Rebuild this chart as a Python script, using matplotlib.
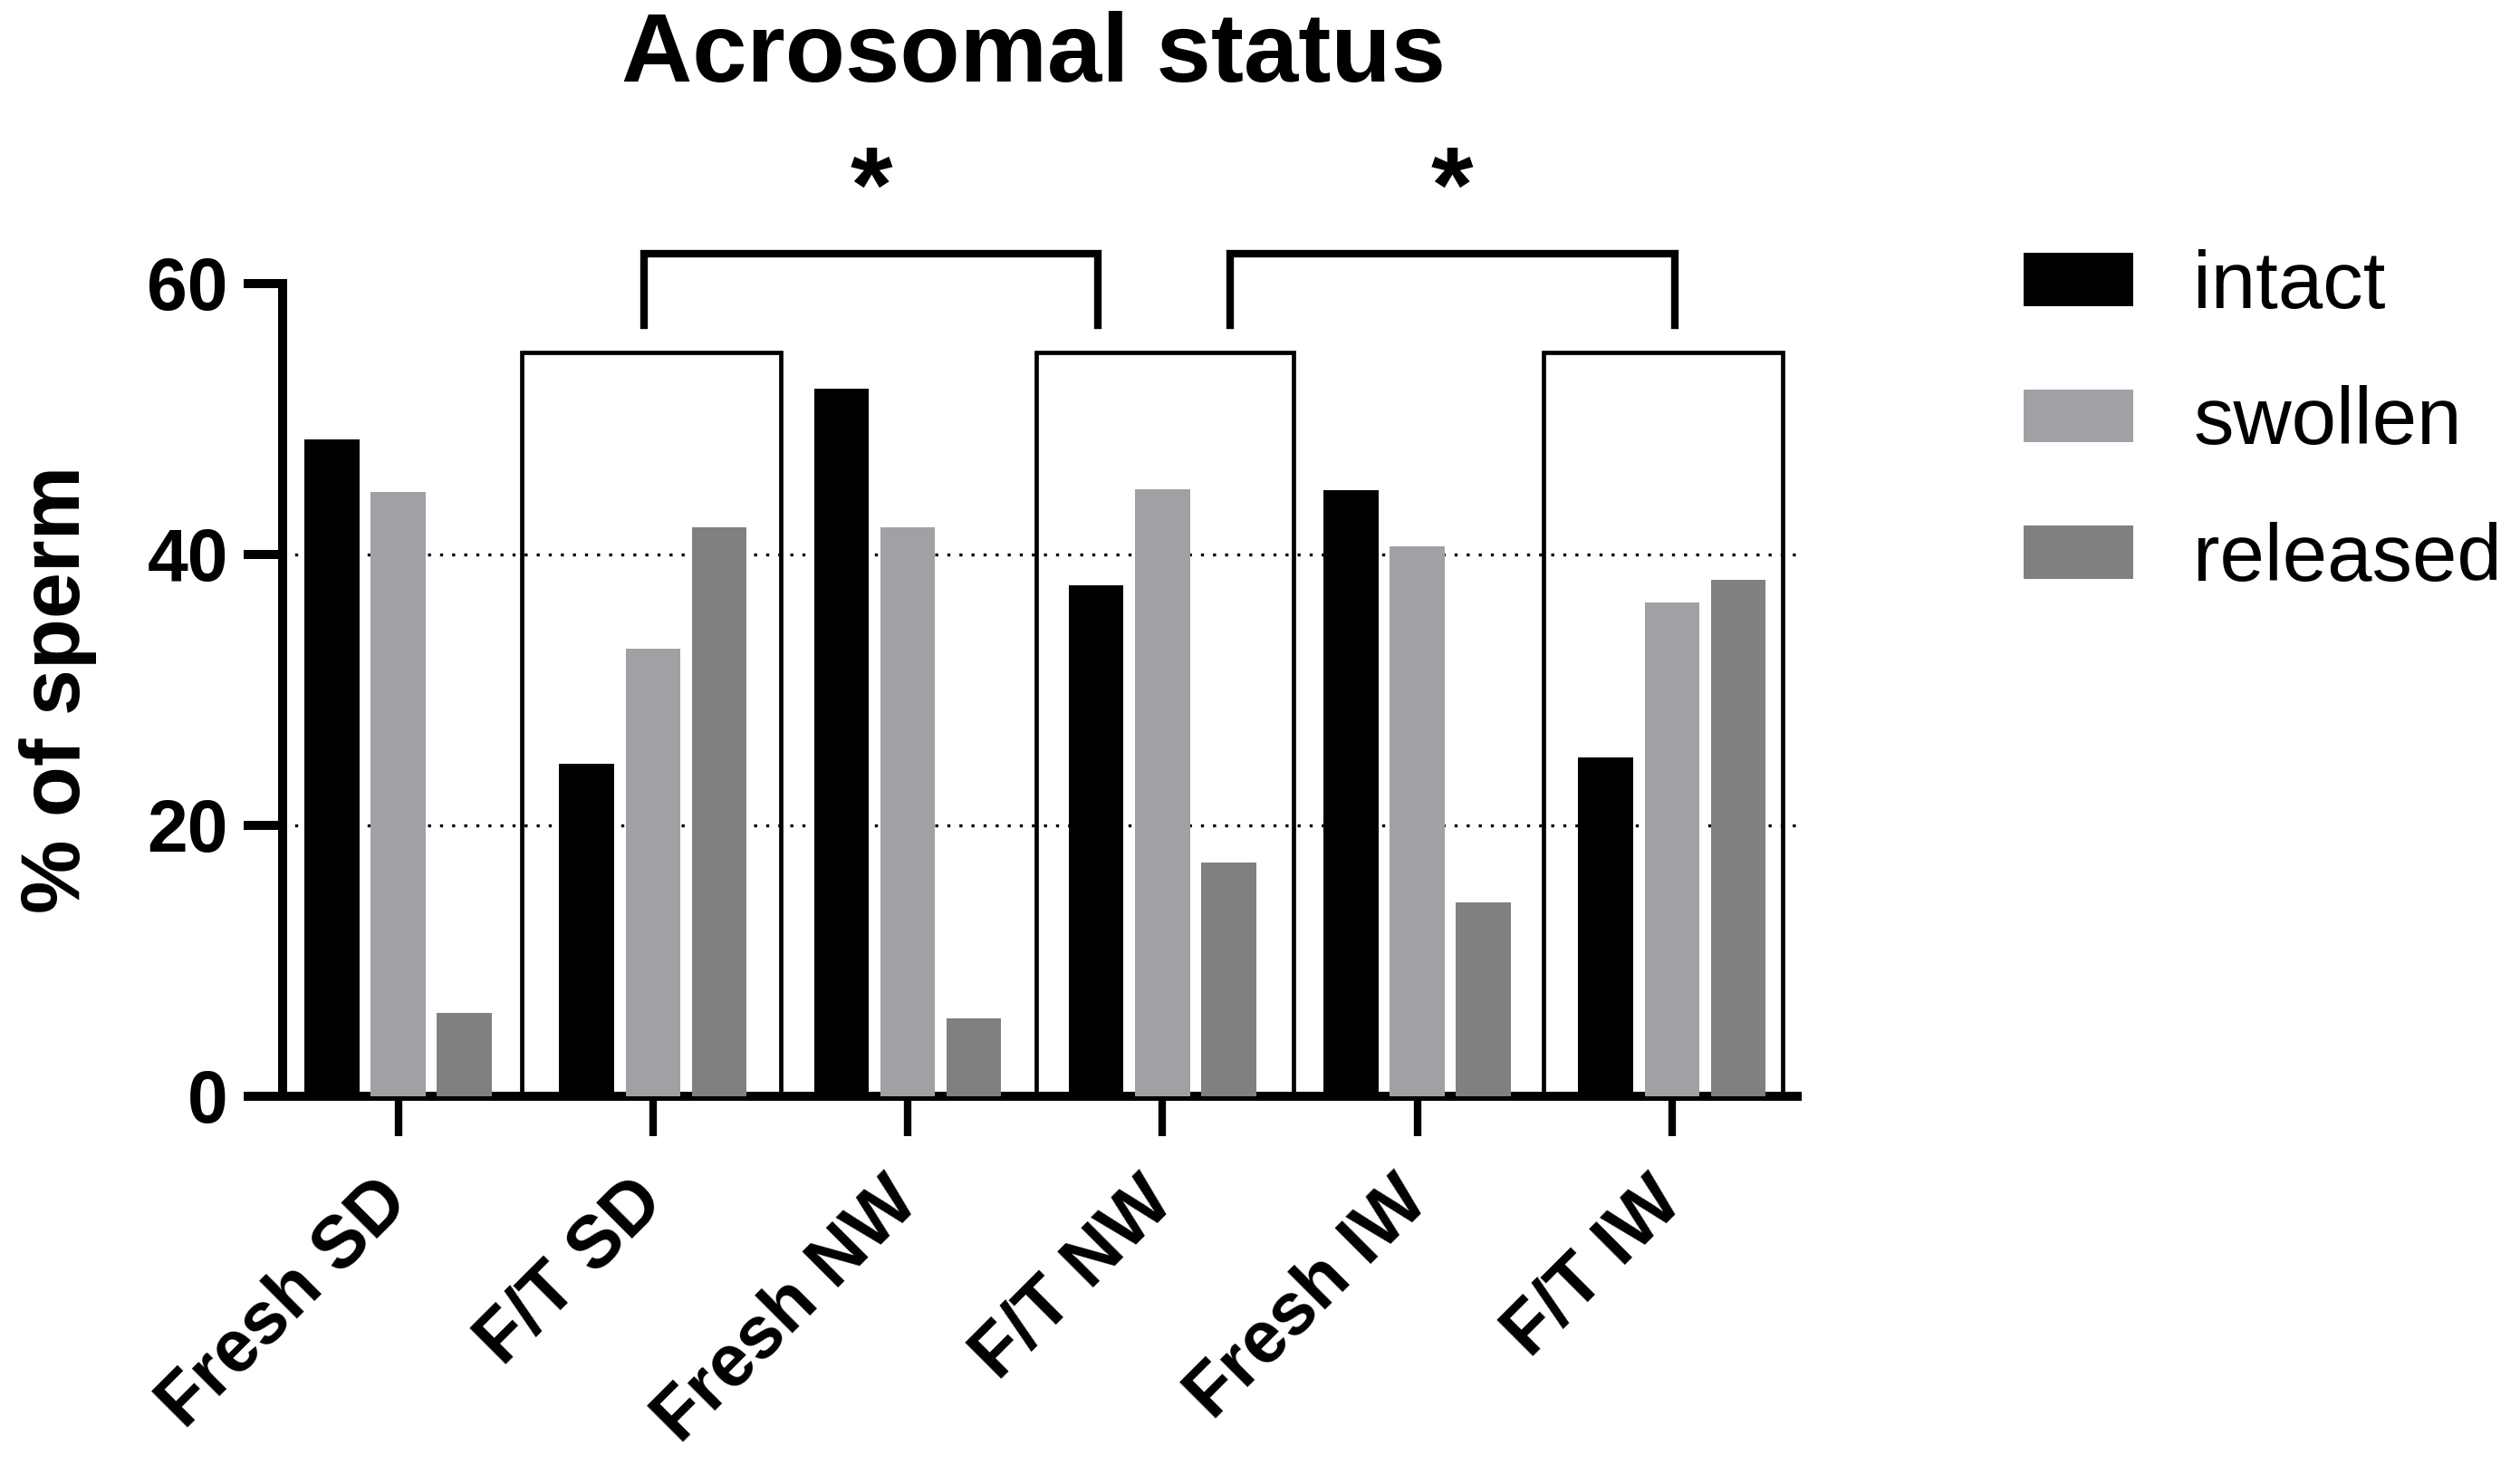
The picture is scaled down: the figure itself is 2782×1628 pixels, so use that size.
import numpy as np
import matplotlib
matplotlib.use("Agg")
import matplotlib.pyplot as plt
import matplotlib.transforms as mtransforms

plt.rcParams['font.family'] = ['Liberation Sans', 'DejaVu Sans']

# ----------------------- DATA -----------------------
groups = ["Fresh SD", "F/T SD", "Fresh NW", "F/T NW", "Fresh IW", "F/T IW"]
series = ["intact", "swollen", "released"]
intact = [48.5, 24.5, 52.2, 37.7, 44.7, 25.0]
swollen = [44.6, 33.0, 42.0, 44.8, 40.6, 36.4]
released = [6.1, 42.0, 5.7, 17.2, 14.3, 38.1]
colors = ["#000000", "#a1a1a5", "#808080"]

# F/T groups get an open box; brackets compare pairs of groups
boxed = [1, 3, 5]
brackets = [(0.966, 2.746), (3.264, 5.01)]

# ----------------------- PLOT -----------------------
fig = plt.figure(figsize=(13.91, 8.14), dpi=200)
ax = fig.add_axes([0.112, 0.257, 0.601, 0.551])

x = np.arange(len(groups))
width = 0.215
offsets = [-0.26, 0.0, 0.26]
for vals, off, col, name in zip([intact, swollen, released], offsets, colors, series):
    ax.bar(x + off, vals, width, color=col, label=name, zorder=3)

ax.set_xlim(-0.455, 5.49)
ax.set_ylim(0, 60)
ax.set_yticks([0, 20, 40, 60])
ax.set_xticks(x)
ax.set_xticklabels(groups, rotation=45, ha='right', va='center',
                   rotation_mode='anchor', fontsize=29, fontweight='bold')
shift = mtransforms.ScaledTranslation(6.5 / 72, 0, fig.dpi_scale_trans)
for lab in ax.get_xticklabels():
    lab.set_transform(lab.get_transform() + shift)
for lab in ax.get_yticklabels():
    lab.set_fontsize(29)
    lab.set_fontweight('bold')

for y in [20, 40]:
    ax.axhline(y, color='black', lw=1.2, ls=(0, (1, 3)), zorder=1)

for s in ['top', 'right']:
    ax.spines[s].set_visible(False)
for s in ['left', 'bottom']:
    ax.spines[s].set_linewidth(3.6)
ax.tick_params(axis='y', length=15.5, width=3.6, pad=6)
ax.tick_params(axis='x', length=15.8, width=3.0, pad=22)

ax.set_ylabel("% of sperm", fontsize=33, fontweight='bold', labelpad=20)

# open boxes around the F/T groups
box_top = 54.9
box_edges = {1: (0.486, 1.503), 3: (2.506, 3.516), 5: (4.495, 5.436)}
for g in boxed:
    l, r = box_edges[g]
    ax.plot([l, l, r, r], [0.3, box_top, box_top, 0.3], color='black',
            lw=1.7, solid_joinstyle='miter', zorder=2)

# significance brackets
for l, r in brackets:
    ax.plot([l, l, r, r], [56.9, 62.2, 62.2, 56.9], color='black', lw=3.0,
            solid_joinstyle='miter', clip_on=False)
    ax.text((l + r) / 2, 66.6, "*", ha='center', va='center', fontsize=43,
            fontweight='bold', clip_on=False)

fig.text(0.41, 0.962, "Acrosomal status", ha='center', va='center',
         fontsize=39, fontweight='bold')

leg = ax.legend(loc='center left', bbox_to_anchor=(0.787, 0.713),
                bbox_transform=fig.transFigure, frameon=False, fontsize=32,
                handlelength=1.36, handleheight=0.64, handletextpad=0.75,
                labelspacing=0.75, borderpad=0)

fig.savefig("out.png", dpi=200)
